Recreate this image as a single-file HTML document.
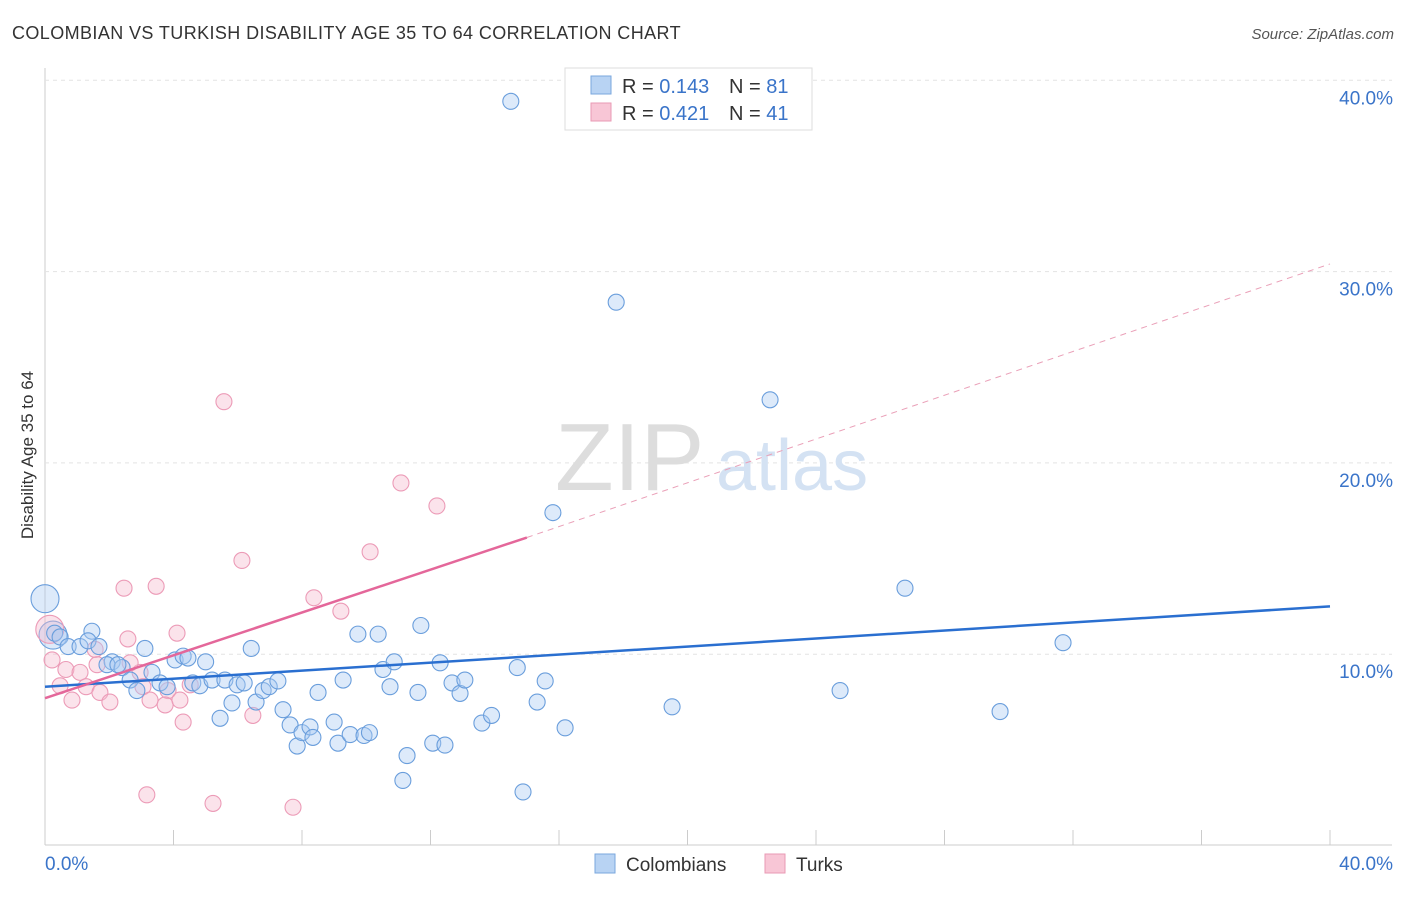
<!DOCTYPE html>
<html><head><meta charset="utf-8"><style>
body{margin:0;background:#fff;font-family:"Liberation Sans",sans-serif;}
svg text{font-family:"Liberation Sans",sans-serif;}
</style></head><body>
<svg width="1406" height="892" xmlns="http://www.w3.org/2000/svg">
<text x="12" y="39" font-size="18" fill="#333" letter-spacing="0.4">COLOMBIAN VS TURKISH DISABILITY AGE 35 TO 64 CORRELATION CHART</text>
<text x="1394" y="39" font-size="15" fill="#555" text-anchor="end" font-style="italic">Source: ZipAtlas.com</text>
<g id="grid"></g>
<text x="555" y="490" font-size="96" fill="#ddd" font-family="Liberation Serif">ZIP</text>
<text x="716" y="490" font-size="72" fill="#d4e2f3">atlas</text>
<text transform="translate(33,455) rotate(-90)" font-size="17" fill="#333" text-anchor="middle">Disability Age 35 to 64</text>
<g id="marks"></g>
<g>
<rect x="565" y="68" width="247" height="62" fill="#fff" stroke="#ddd"/>
<rect x="591" y="76" width="20" height="18" fill="#b8d3f3" stroke="#7aa7de"/>
<text x="622" y="93" font-size="20" fill="#333">R = <tspan fill="#3a74c9">0.143</tspan></text>
<text x="729" y="93" font-size="20" fill="#333">N = <tspan fill="#3a74c9">81</tspan></text>
<rect x="591" y="103" width="20" height="18" fill="#f8c6d6" stroke="#e99ab4"/>
<text x="622" y="120" font-size="20" fill="#333">R = <tspan fill="#3a74c9">0.421</tspan></text>
<text x="729" y="120" font-size="20" fill="#333">N = <tspan fill="#3a74c9">41</tspan></text>
</g>
<g>
<rect x="595" y="854" width="20" height="19" fill="#b8d3f3" stroke="#7aa7de"/>
<text x="626" y="871" font-size="19" fill="#333">Colombians</text>
<rect x="765" y="854" width="20" height="19" fill="#f8c6d6" stroke="#e99ab4"/>
<text x="796" y="871" font-size="19" fill="#333">Turks</text>
</g>
</svg>
<script>
const yTicks=[10,20,30,40];
const xTickLabels=["0.0%","40.0%"];
const blueX=[14.5,17.78,22.57,15.81,26.77,31.69,24.75,19.52,29.73,0.3,0.47,0.72,1.09,1.46,1.34,1.68,2.09,1.93,2.4,2.27,2.65,2.86,3.11,3.33,3.58,3.8,4.05,4.3,4.45,4.6,4.82,5.0,5.2,5.45,5.6,5.82,5.98,6.2,6.42,6.57,6.79,6.98,7.25,7.41,7.63,7.85,8.0,8.25,8.34,8.5,9.0,9.12,9.28,9.5,9.74,9.93,10.1,10.37,10.52,10.74,10.87,11.27,11.14,11.61,11.7,12.07,12.3,12.45,12.67,12.92,13.07,13.6,13.9,14.7,14.88,15.32,15.57,16.19];
const blueY=[38.9,28.4,23.3,17.4,13.45,10.6,8.1,7.25,7.0,11.1,10.9,10.4,10.4,11.2,10.7,10.4,9.6,9.45,9.3,9.45,8.65,8.1,10.3,9.05,8.5,8.3,9.7,9.9,9.8,8.5,8.35,9.6,8.65,6.65,8.65,7.45,8.4,8.5,10.3,7.5,8.1,8.3,8.6,7.1,6.3,5.2,5.9,6.2,5.65,8.0,6.45,5.35,8.65,5.8,11.05,5.75,5.9,11.05,9.2,8.3,9.6,4.7,3.4,8.0,11.5,5.35,9.55,5.25,8.5,7.95,8.65,6.4,6.8,9.3,2.8,7.5,8.6,6.15];
const pinkX=[5.57,11.08,12.2,6.13,10.12,3.46,2.46,8.37,9.21,4.11,2.58,0.22,0.65,0.47,0.84,1.09,1.28,1.56,1.71,2.02,1.62,2.96,3.05,3.27,3.83,3.74,4.2,4.3,4.52,6.47,3.17,5.23,7.72,2.65];
const pinkY=[23.2,18.95,17.75,14.9,15.35,13.55,13.45,12.95,12.25,11.1,10.8,9.7,9.2,8.35,7.6,9.05,8.3,10.25,8.0,7.5,9.45,9.05,8.3,7.6,8.1,7.35,7.6,6.45,8.4,6.8,2.65,2.2,2.0,9.55];
const bigBlue=[[0,12.9],[0.25,11.0]];
const bigPink=[[0.15,11.3]];
const blueLine=[[0,8.3],[40,12.5]];
const pinkLine=[[0,7.7],[15,16.1]];
const pinkDash=[[15,16.1],[40,30.4]];
const X=v=>45+v*1285/40, Y=v=>845.5-v*19.13;
const NS="http://www.w3.org/2000/svg";
const grid=document.getElementById('grid'), marks=document.getElementById('marks');
function mk(p,tag,at){const e=document.createElementNS(NS,tag);for(const k in at)e.setAttribute(k,at[k]);p.appendChild(e);return e;}
let ax=mk(grid,'line',{x1:45,y1:68,x2:45,y2:845,stroke:'#ccc'});


let bx=mk(grid,'line',{x1:45,y1:845,x2:1392,y2:845,stroke:'#ccc'});


for(let i=1;i<=10;i++){let t=mk(grid,'line',{x1:X(i*4),x2:X(i*4),y1:830,y2:845,stroke:'#ccc'});

}
yTicks.forEach(v=>{let g=mk(grid,'line',{x1:45,x2:1392,y1:Y(v),y2:Y(v),stroke:'#e3e3e3','stroke-dasharray':'4,4'});


let t=mk(grid,'text',{x:1393,y:Y(v)+24,'font-size':19,fill:'#3a74c9','text-anchor':'end'});t.textContent=v.toFixed(1)+'%';

});
let xl=mk(grid,'text',{x:45,y:870,'font-size':19,fill:'#3a74c9'});xl.textContent=xTickLabels[0];


let xr=mk(grid,'text',{x:1393,y:870,'font-size':19,fill:'#3a74c9','text-anchor':'end'});xr.textContent=xTickLabels[1];


function dot(x,y,r,c){let e=mk(marks,'circle',{cx:X(x),cy:Y(y),r:r,fill:c==='b'?'rgba(170,202,242,0.4)':'rgba(246,186,206,0.4)',stroke:c==='b'?'#6a9edc':'#ec9bb7','stroke-width':1.1});

}
bigBlue.forEach(p=>dot(p[0],p[1],14,'b'));
bigPink.forEach(p=>dot(p[0],p[1],14,'p'));
pinkX.forEach((x,i)=>dot(x,pinkY[i],8,'p'));
blueX.forEach((x,i)=>dot(x,blueY[i],8,'b'));
function ln(p,c,w,d,n){let e=mk(marks,'line',{x1:X(p[0][0]),y1:Y(p[0][1]),x2:X(p[1][0]),y2:Y(p[1][1]),stroke:c,'stroke-width':w});if(d)e.setAttribute('stroke-dasharray',d);

}
ln(pinkDash,'#eaa0b8',1,'6,5','turkish-trend-extension');
ln(blueLine,'#2a6fd0',2.5,null,'colombian-trend-line');
ln(pinkLine,'#e4679a',2.5,null,'turkish-trend-line');
</script>
</body></html>
